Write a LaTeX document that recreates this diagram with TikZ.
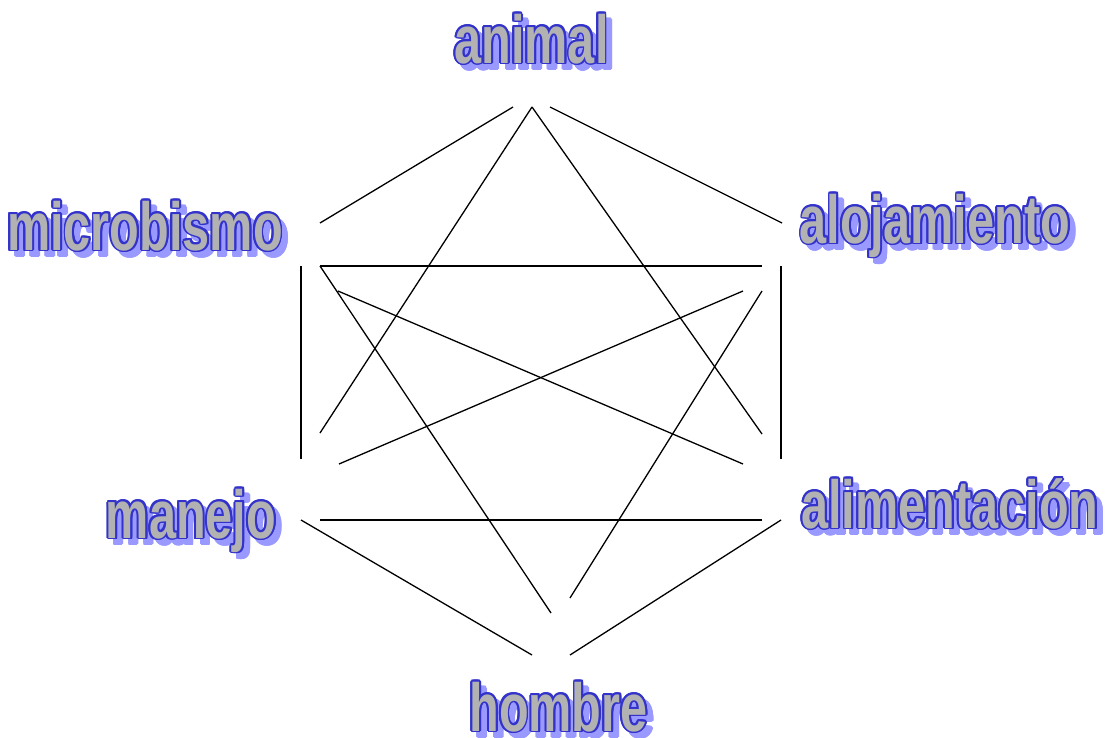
\documentclass[tikz,border=0pt]{standalone}
\usepackage{fontspec}
\newfontfamily\lblfont{Liberation Sans}[FakeStretch=0.715]
\definecolor{outc}{HTML}{3333CC}
\definecolor{fillc}{HTML}{B2B2B2}
\definecolor{shadowc}{HTML}{9999FF}
\tikzset{
  lbl/.style={inner sep=0pt, anchor=base, font=\lblfont\bfseries\fontsize{68}{68}\selectfont},
  link/.style={line width=1.3pt, black}
}
\newcommand\outlabel[3]{%
  \foreach \a in {0,30,...,330}{
    \node[lbl,text=shadowc,xshift={6pt+1.8pt*cos(\a)},yshift={-6pt+1.8pt*sin(\a)}] at (#1) {#3};
  }
  \foreach \a in {0,22.5,...,337.5}{
    \node[lbl,text=outc,xshift={1.9pt*cos(\a)},yshift={1.9pt*sin(\a)}] at (#1) {#3};
  }
  \node[lbl,text=fillc] (#2) at (#1) {#3};
}
\begin{document}
\begin{tikzpicture}[x=1pt,y=-1pt]
\useasboundingbox (0,0) rectangle (1109,737);
% label positions (base centre)
\coordinate (pAnimal) at (531.5,63);
\coordinate (pMicro) at (145,250);
\coordinate (pAloj) at (935,243);
\coordinate (pManejo) at (191,538);
\coordinate (pAlim) at (950,528);
\coordinate (pHombre) at (558.5,731);
\outlabel{pAnimal}{animal}{animal}
\outlabel{pMicro}{microbismo}{microbismo}
\outlabel{pAloj}{alojamiento}{alojamiento}
\outlabel{pManejo}{manejo}{manejo}
\outlabel{pAlim}{alimentacion}{alimentación}
\outlabel{pHombre}{hombre}{hombre}
% connector end points
\coordinate (a1) at (513,107);
\coordinate (a2) at (532,107);
\coordinate (a3) at (550,107);
\coordinate (m1) at (320,223);
\coordinate (m2) at (301,266);
\coordinate (m3) at (320,266);
\coordinate (m4) at (338,291);
\coordinate (l1) at (782,223);
\coordinate (l2) at (781,266);
\coordinate (l3) at (762,266);
\coordinate (l4) at (743,291);
\coordinate (l5) at (762,291);
\coordinate (n1) at (301,459);
\coordinate (n2) at (320,433);
\coordinate (n3) at (339,464);
\coordinate (n4) at (320,520);
\coordinate (n5) at (301,520);
\coordinate (e1) at (781,459);
\coordinate (e2) at (762,434);
\coordinate (e3) at (743,464);
\coordinate (e4) at (762,520);
\coordinate (e5) at (781,520);
\coordinate (h1) at (532,655);
\coordinate (h2) at (570,655);
\coordinate (h3) at (551,613);
\coordinate (h4) at (570,598);
% connectors
\draw[link] (a1) -- (m1);
\draw[link] (a3) -- (l1);
\draw[link] (m2) -- (n1);
\draw[link] (l2) -- (e1);
\draw[link] (n5) -- (h1);
\draw[link] (e5) -- (h2);
\draw[link] (a2) -- (n2);
\draw[link] (a2) -- (e2);
\draw[link] (m3) -- (l3);
\draw[link] (m3) -- (h3);
\draw[link] (m4) -- (e3);
\draw[link] (l4) -- (n3);
\draw[link] (l5) -- (h4);
\draw[link] (n4) -- (e4);
\end{tikzpicture}
\end{document}
